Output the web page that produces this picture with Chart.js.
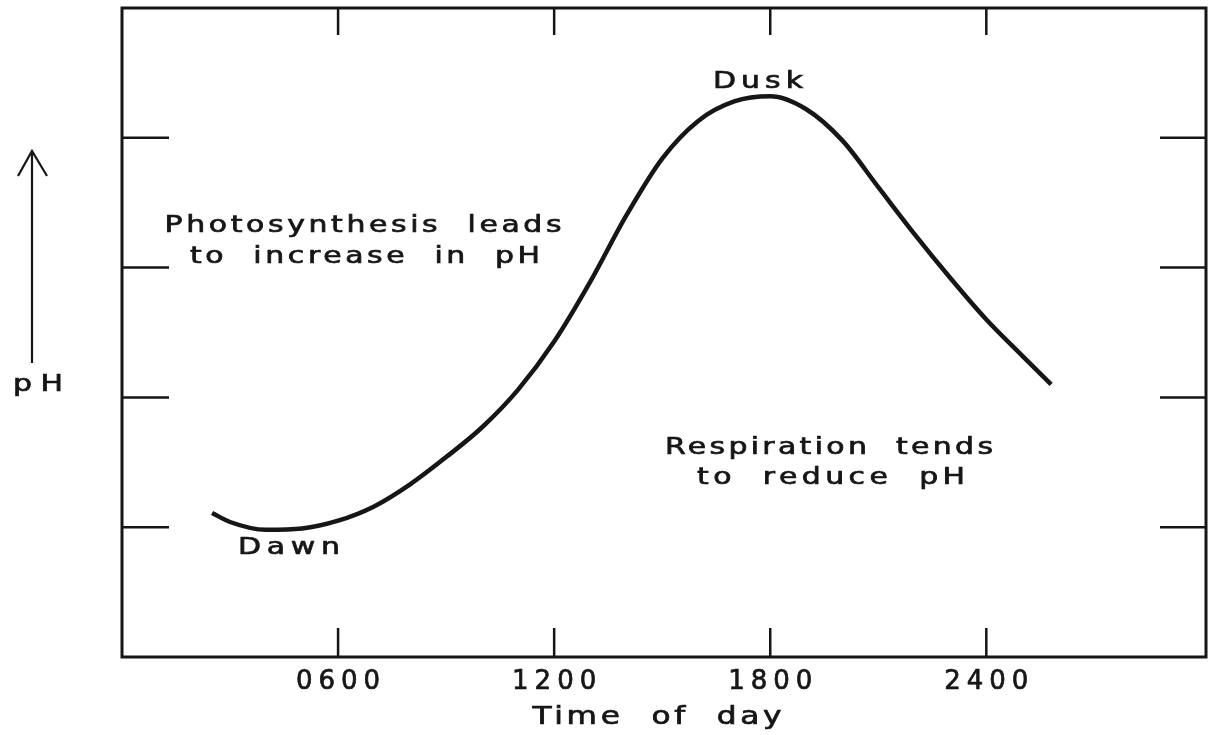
<!DOCTYPE html>
<html>
<head>
<meta charset="utf-8">
<script src="https://cdn.jsdelivr.net/npm/chart.js@4.4.1/dist/chart.umd.min.js"></script>
<style>
  html, body { margin: 0; padding: 0; background: #fff; }
  #wrap { width: 1209px; height: 735px; }
</style>
</head>
<body>
<div id="wrap"><canvas id="myChart"></canvas></div>
<script>
// time of day in hours (24 = midnight, >24 = early next morning)
var hours = [2.5, 3, 4, 5, 6, 7, 8, 9, 10, 11, 12, 13, 14, 15, 16, 17, 18, 19, 20, 21, 22, 23, 24, 25, 25.8];
// pH, in arbitrary units (the original axis has no numbers)
var phValues = [1.11, 1.04, 0.98, 0.99, 1.05, 1.16, 1.33, 1.54, 1.77, 2.06, 2.43, 2.89, 3.40, 3.84, 4.13, 4.28, 4.32, 4.22, 3.98, 3.62, 3.26, 2.92, 2.60, 2.32, 2.10];

var tickHours = [6, 12, 18, 24];
var tickLabels = ['0600', '1200', '1800', '2400'];
var yTicks = [1, 2, 3, 4];
var xTitle = 'Time of day';

var ink = '#161616';

// text with wide letters, fitted to a width (the original uses a wide typewriter face)
function wideText(ctx, text, cx, cy, size, width) {
    var sx = 1.3;
    ctx.save();
    ctx.font = size + 'px "DejaVu Sans"';
    ctx.letterSpacing = '0px';
    ctx.wordSpacing = Math.round(size * 0.45) + 'px';
    var w0 = ctx.measureText(text).width;
    var s = (width / sx - w0) / (text.length - 1);
    ctx.letterSpacing = s.toFixed(2) + 'px';
    ctx.fillStyle = ink;
    ctx.strokeStyle = ink;
    ctx.lineWidth = 0.7;
    ctx.textAlign = 'left';
    ctx.textBaseline = 'middle';
    ctx.translate(cx, cy);
    ctx.scale(sx, 1);
    ctx.fillText(text, -width / sx / 2, 0);
    ctx.strokeText(text, -width / sx / 2, 0);
    ctx.restore();
}

var framePlugin = {
    id: 'frame',
    beforeDraw(chart) {
        // spacing for the tick labels drawn by Chart.js
        chart.ctx.letterSpacing = '6px';
    },
    afterDraw(chart) {
        var ctx = chart.ctx;
        var a = chart.chartArea;
        var xs = chart.scales.x;
        var ys = chart.scales.y;
        ctx.save();
        ctx.letterSpacing = '0px';
        ctx.strokeStyle = ink;
        ctx.lineWidth = 3;
        ctx.strokeRect(a.left, a.top, a.right - a.left, a.bottom - a.top);

        // inward ticks
        ctx.lineWidth = 2.5;
        ctx.beginPath();
        tickHours.forEach(function (h) {
            var px = xs.getPixelForValue(h);
            ctx.moveTo(px, a.top);
            ctx.lineTo(px, a.top + 27);
            ctx.moveTo(px, a.bottom);
            ctx.lineTo(px, a.bottom - 29);
        });
        yTicks.forEach(function (v) {
            var py = ys.getPixelForValue(v);
            ctx.moveTo(a.left, py);
            ctx.lineTo(a.left + 47, py);
            ctx.moveTo(a.right, py);
            ctx.lineTo(a.right - 46, py);
        });
        ctx.stroke();

        // pH arrow
        ctx.lineWidth = 2.2;
        ctx.beginPath();
        ctx.moveTo(32, 363);
        ctx.lineTo(32, 151);
        ctx.moveTo(18, 176);
        ctx.lineTo(32, 151);
        ctx.lineTo(47, 176);
        ctx.stroke();
        ctx.restore();

        wideText(ctx, 'pH', 38, 385, 23, 50);
        wideText(ctx, xTitle, 657, 718, 24, 249);
        wideText(ctx, 'Dusk', 758, 82, 23, 90);
        wideText(ctx, 'Dawn', 289, 548, 23, 102);
        wideText(ctx, 'Photosynthesis leads', 363, 226, 23, 397);
        wideText(ctx, 'to increase in pH', 365, 257, 23, 350);
        wideText(ctx, 'Respiration tends', 829, 448, 23, 328);
        wideText(ctx, 'to reduce pH', 831, 478, 23, 268);
    }
};

var ctx = document.getElementById('myChart').getContext('2d');
new Chart(ctx, {
    type: 'line',
    data: {
        datasets: [{
            label: 'pH',
            data: hours.map(function (h, i) { return { x: h, y: phValues[i] }; }),
            borderColor: ink,
            borderWidth: 4.5,
            pointRadius: 0,
            fill: false,
            cubicInterpolationMode: 'monotone'
        }]
    },
    options: {
        responsive: true,
        maintainAspectRatio: false,
        animation: false,
        layout: { padding: { left: 122, top: 8, right: 3, bottom: 0 } },
        plugins: {
            legend: { display: false },
            tooltip: { enabled: false }
        },
        scales: {
            x: {
                type: 'linear',
                min: 0,
                max: 30.1,
                afterBuildTicks: function (scale) {
                    scale.ticks = tickHours.map(function (h) { return { value: h }; });
                },
                afterFit: function (scale) { scale.height = 78; },
                grid: { display: false, drawTicks: false },
                border: { display: false },
                ticks: {
                    autoSkip: false,
                    maxRotation: 0,
                    padding: 10,
                    labelOffset: 3,
                    color: ink,
                    textStrokeColor: ink,
                    textStrokeWidth: 0.7,
                    font: { family: 'DejaVu Sans', size: 26 },
                    callback: function (value, index) { return tickLabels[index]; }
                }
            },
            y: {
                display: false,
                min: 0,
                max: 5
            }
        }
    },
    plugins: [framePlugin]
});
</script>
</body>
</html>
